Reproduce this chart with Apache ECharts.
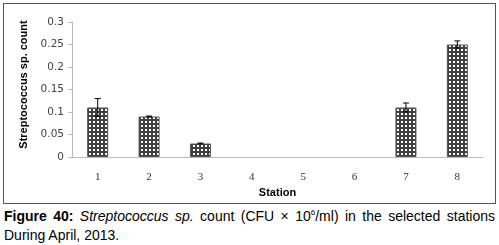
<!DOCTYPE html>
<html>
<head>
<meta charset="utf-8">
<script src="https://cdn.jsdelivr.net/npm/echarts@6/dist/echarts.min.js"></script>
<style>
  body { margin: 0; background: #fff; }
  #frame { position: absolute; left: 3px; top: 3px; width: 491px; height: 199px; border: 1px solid #555; box-sizing: content-box; }
  #chart { position: absolute; left: 0; top: 0; width: 499px; height: 205px; }
  .cap { position: absolute; left: 4px; width: 491px; font: 14px "Liberation Sans", Arial, sans-serif; color: #000; white-space: nowrap; }
  #cap1 { top: 208px; text-align: justify; text-align-last: justify; white-space: normal; }
  #cap2 { top: 227px; }
</style>
</head>
<body>
<div id="frame"></div>
<div id="chart"></div>
<div class="cap" id="cap1"><b>Figure 40:</b> <i>Streptococcus sp.</i> count (CFU × 10<sup style="font-size:8px;line-height:0">6</sup>/ml) in the selected stations</div>
<div class="cap" id="cap2">During April, 2013.</div>
<script>
// stations and counts
var stations = ['1', '2', '3', '4', '5', '6', '7', '8'];
var counts = [0.11, 0.09, 0.03, 0, 0, 0, 0.11, 0.25];
var errors = [0.02, 0.001, 0.001, 0, 0, 0, 0.01, 0.008];

// checkered fill
var pat = document.createElement('canvas');
pat.width = 4; pat.height = 4;
var ctx = pat.getContext('2d');
ctx.fillStyle = '#404040';
ctx.fillRect(0, 0, 4, 4);
ctx.fillStyle = '#ffffff';
ctx.fillRect(1, 1, 2, 2);

var myChart = echarts.init(document.getElementById('chart'));

var option = {
  animation: false,
  grid: { left: 72, right: 16, top: 22, bottom: 48 },
  xAxis: {
    type: 'category',
    data: stations,
    name: 'Station',
    nameLocation: 'middle',
    nameGap: 28,
    nameTextStyle: { fontFamily: 'Liberation Sans', fontWeight: 'bold', fontSize: 11, color: '#000' },
    axisLine: { lineStyle: { color: '#bbb' } },
    axisTick: { show: false },
    axisLabel: { fontFamily: 'Liberation Serif', fontSize: 11, color: '#333', margin: 15 }
  },
  yAxis: {
    type: 'value',
    min: 0,
    max: 0.3,
    interval: 0.05,
    name: 'Streptococcus sp. count',
    nameLocation: 'middle',
    nameGap: 43,
    nameTextStyle: { fontFamily: 'Liberation Sans', fontWeight: 'bold', fontSize: 11, color: '#000', padding: [0, 0, 0, 10] },
    axisLine: { show: true, lineStyle: { color: '#bbb' } },
    axisTick: { show: true, length: 4, lineStyle: { color: '#bbb' } },
    splitLine: { show: false },
    axisLabel: { fontFamily: 'DejaVu Sans', fontSize: 10.5, color: '#444', margin: 8 }
  },
  series: [
    {
      type: 'bar',
      data: counts.map(function (v) { return v === 0 ? '-' : v; }),
      barWidth: 21,
      itemStyle: {
        color: { image: pat, repeat: 'repeat' },
        borderColor: '#555',
        borderWidth: 1
      }
    },
    {
      type: 'custom',
      data: counts.map(function (v, i) { return [i, v, errors[i]]; }),
      renderItem: function (params, api) {
        var v = api.value(1), e = api.value(2);
        if (!v) return null;
        var top = api.coord([api.value(0), v + e]);
        var bot = api.coord([api.value(0), v - e]);
        var x = top[0];
        return {
          type: 'group',
          children: [
            { type: 'line', shape: { x1: x, y1: top[1], x2: x, y2: bot[1] }, style: { stroke: '#000', lineWidth: 1 } },
            { type: 'line', shape: { x1: x - 3, y1: top[1], x2: x + 3, y2: top[1] }, style: { stroke: '#000', lineWidth: 1 } },
            { type: 'line', shape: { x1: x - 3, y1: bot[1], x2: x + 3, y2: bot[1] }, style: { stroke: '#000', lineWidth: 1 } }
          ]
        };
      },
      z: 5
    }
  ]
};

myChart.setOption(option);
</script>
</body>
</html>
